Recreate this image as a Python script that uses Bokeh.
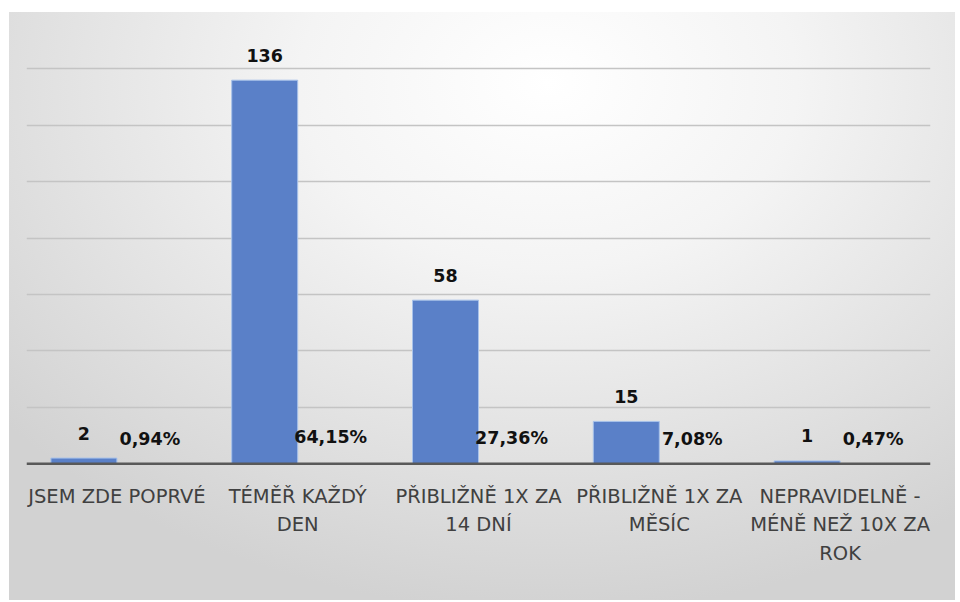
from bokeh.plotting import figure
from bokeh.models import FactorRange, Range1d, FixedTicker, ColumnDataSource, Span
from bokeh.transform import dodge
from bokeh.core.properties import value
from bokeh.embed import file_html
from bokeh.resources import INLINE

categories = ["JSEM ZDE POPRVÉ", "TÉMĚŘ KAŽDÝ DEN", "PŘIBLIŽNĚ 1X ZA 14 DNÍ",
              "PŘIBLIŽNĚ 1X ZA MĚSÍC", "NEPRAVIDELNĚ - MÉNĚ NEŽ 10X ZA ROK"]
category_labels = ["JSEM ZDE POPRVÉ", "TÉMĚŘ KAŽDÝ\nDEN", "PŘIBLIŽNĚ 1X ZA\n14 DNÍ",
                   "PŘIBLIŽNĚ 1X ZA\nMĚSÍC", "NEPRAVIDELNĚ -\nMÉNĚ NEŽ 10X ZA\nROK"]
counts = [2, 136, 58, 15, 1]
percents = [0.94, 64.15, 27.36, 7.08, 0.47]
grid_ticks = [20, 40, 60, 80, 100, 120, 140]

src = ColumnDataSource(dict(
    cat=categories,
    cat_label=category_labels,
    zero=[0] * len(categories),
    count=counts,
    count_label=[str(c) for c in counts],
    pct=[v / 100 for v in percents],
    pct_label=[f"{v:.2f}".replace(".", ",") + "%" for v in percents],
))

p = figure(x_range=FactorRange(*categories), y_range=Range1d(-48.5, 160),
           width=946, height=588, output_backend="svg", toolbar_location=None,
           x_axis_location=None, y_axis_location=None,
           min_border_left=17, min_border_right=25,
           min_border_top=0, min_border_bottom=0)
p.margin = (12, 0, 0, 9)
p.styles = {"background": "radial-gradient(ellipse 75% 90% at 57% 12%, #ffffff 0%, #f4f4f4 35%, #d2d2d2 100%)"}
p.border_fill_color = None
p.background_fill_color = None
p.outline_line_color = None

p.xgrid.grid_line_color = None
p.ygrid.ticker = FixedTicker(ticks=grid_ticks)
p.ygrid.grid_line_color = "#c4c4c4"
p.ygrid.grid_line_width = 1.5

p.vbar(x=dodge("cat", -0.1825, range=p.x_range), top="count", width=0.365,
       source=src, fill_color="#5a80c8", line_color="#a8c2ea", line_width=1)

p.add_layout(Span(location=0, dimension="width", line_color="#595959", line_width=2.5))

p.text(x=dodge("cat", -0.1825, range=p.x_range), y="count", text="count_label",
       source=src, text_font=value("DejaVu Sans"), text_font_style="bold",
       text_font_size="17.5px", text_color="#111111", text_align="center",
       text_baseline="middle", y_offset=-25)
p.text(x=dodge("cat", 0.1825, range=p.x_range), y="pct", text="pct_label",
       source=src, text_font=value("DejaVu Sans"), text_font_style="bold",
       text_font_size="17.5px", text_color="#111111", text_align="center",
       text_baseline="middle", y_offset=-25)

p.text(x="cat", y="zero", text="cat_label", source=src,
       text_font=value("DejaVu Sans"), text_font_size="19.5px",
       text_color="#404040", text_align="center", text_baseline="top",
       text_line_height=1.24, y_offset=21)

open("out.html", "w").write(file_html(p, INLINE))
